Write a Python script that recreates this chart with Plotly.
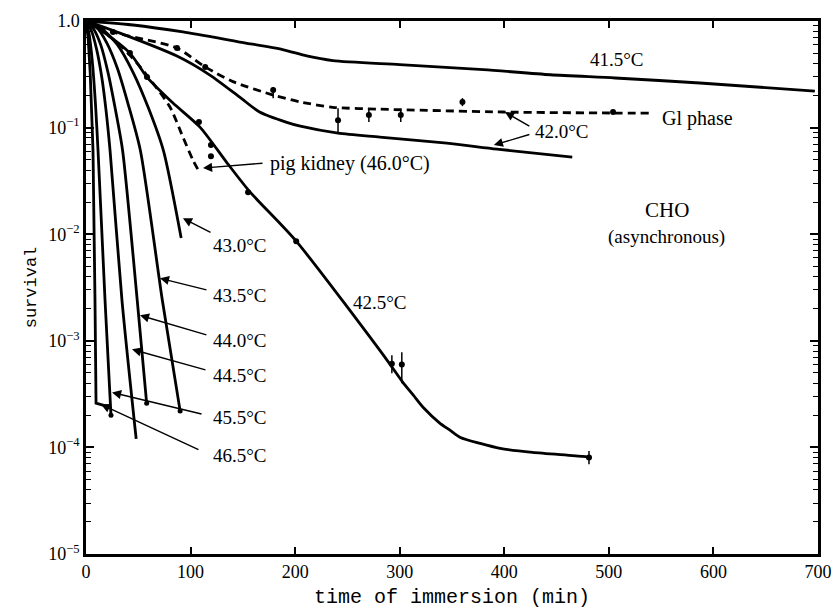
import plotly.graph_objects as go

# ---------------- data (time in min, survival fraction) ----------------
t_415 = [0, 45, 92.7, 147, 188, 211, 236, 300, 380, 444, 506, 587, 697]
s_415 = [1.0, 0.917, 0.789, 0.635, 0.54, 0.47, 0.425, 0.39, 0.35, 0.313, 0.292, 0.262, 0.22]

t_420 = [0, 32.5, 87, 118.5, 147, 166, 192, 205, 241, 281, 345, 393, 465]
s_420 = [1.0, 0.77, 0.469, 0.311, 0.193, 0.140, 0.112, 0.103, 0.0887, 0.0815, 0.0715, 0.0628, 0.0528]

t_g1 = [0, 25.8, 87, 114, 140.5, 179, 205, 236, 281, 399, 504, 539]
s_g1 = [1.0, 0.788, 0.557, 0.370, 0.270, 0.202, 0.174, 0.155, 0.149, 0.140, 0.137, 0.137]
pt_g1_t = [25.8, 87, 114, 179, 241, 270.5, 301, 360, 504]
pt_g1_s = [0.79, 0.557, 0.37, 0.225, 0.117, 0.131, 0.131, 0.174, 0.14]
pt_g1_ep = [0, 0, 0, 0.015, 0.035, 0.015, 0.015, 0.015, 0]
pt_g1_em = [0, 0, 0, 0.036, 0.028, 0.018, 0.018, 0.015, 0]

t_425 = [0, 18.2, 42, 58.3, 83.2, 109, 135, 157, 201, 288, 303, 313, 323, 338, 348, 358, 377, 396, 427, 475, 481]
s_425 = [1.0, 0.77, 0.50, 0.298, 0.17, 0.101, 0.0465, 0.0248, 0.0086, 6.56e-4, 4.07e-4,
         3.09e-4, 2.34e-4, 1.70e-4, 1.45e-4, 1.24e-4, 1.09e-4, 9.8e-5, 8.97e-5, 8.22e-5, 8.05e-5]
pt_425_t = [42, 58.3, 108, 119.5, 119.5, 155, 201, 292.5, 302, 481]
pt_425_s = [0.50, 0.298, 0.113, 0.0685, 0.054, 0.0248, 0.0086, 6.1e-4, 6.0e-4, 8.05e-5]
pt_425_ep = [0, 0, 0, 0, 0, 0, 0, 1.2e-4, 1.8e-4, 1.2e-5]
pt_425_em = [0, 0, 0, 0, 0, 0, 0, 1.15e-4, 2.0e-4, 1.1e-5]

t_pig = [0, 18.2, 32.5, 48.8, 64, 80.3, 92.7, 102.3, 109]
s_pig = [1.0, 0.77, 0.596, 0.403, 0.262, 0.156, 0.0815, 0.0495, 0.0374]

t_430 = [0, 15, 30, 45, 60, 74, 91]
s_430 = [1.0, 0.85, 0.6, 0.33, 0.15, 0.061, 0.0092]

t_435 = [0, 10, 20, 30, 40, 52, 73, 90]
s_435 = [1.0, 0.88, 0.62, 0.36, 0.17, 0.061, 0.0024, 2.2e-4]

t_440 = [0, 7, 14, 21, 28, 35, 49, 58]
s_440 = [1.0, 0.85, 0.6, 0.33, 0.15, 0.061, 0.0024, 2.6e-4]

t_445 = [0, 5, 10, 15, 19, 23, 34.4, 48]
s_445 = [1.0, 0.82, 0.55, 0.3, 0.15, 0.061, 0.0024, 1.2e-4]

t_455 = [0, 3, 6, 9, 11.5, 18.2, 23.9]
s_455 = [1.0, 0.75, 0.42, 0.17, 0.061, 0.0024, 2.0e-4]

t_465 = [0, 2, 4, 5.5, 6.7, 8.6, 9.6, 22]
s_465 = [1.0, 0.7, 0.33, 0.15, 0.061, 0.0024, 2.6e-4, 2.4e-4]

end_t = [23.9, 58, 90]
end_s = [2.0e-4, 2.6e-4, 2.2e-4]

x_ticks = [0, 100, 200, 300, 400, 500, 600, 700]
y_ticks = [1e-5, 1e-4, 1e-3, 1e-2, 1e-1, 1.0]
y_ticktext = ["10<sup>−5</sup>", "10<sup>−4</sup>", "10<sup>−3</sup>",
              "10<sup>−2</sup>", "10<sup>−1</sup>", "1.0"]

# ---------------- figure ----------------
FONT = "Liberation Serif"
LW = 2.8
fig = go.Figure()

def curve(t, s, dash="solid", width=LW):
    fig.add_trace(go.Scatter(x=t, y=s, mode="lines",
                             line=dict(color="black", width=width, dash=dash,
                                       shape="spline", smoothing=0.7),
                             showlegend=False, hoverinfo="skip"))

curve(t_415, s_415)
curve(t_420, s_420)
curve(t_g1, s_g1, dash="8px,5px")
curve(t_425, s_425)
curve(t_pig, s_pig, dash="8px,5px")
for t, s in [(t_430, s_430), (t_435, s_435), (t_440, s_440), (t_445, s_445), (t_455, s_455)]:
    curve(t, s)
fig.add_trace(go.Scatter(x=t_465, y=s_465, mode="lines",
                         line=dict(color="black", width=LW),
                         showlegend=False, hoverinfo="skip"))

def points(t, s, ep, em):
    fig.add_trace(go.Scatter(x=t, y=s, mode="markers",
                             marker=dict(color="black", size=6),
                             error_y=dict(type="data", symmetric=False, array=ep, arrayminus=em,
                                          color="black", thickness=1.5, width=0),
                             showlegend=False, hoverinfo="skip"))

points(pt_g1_t, pt_g1_s, pt_g1_ep, pt_g1_em)
points(pt_425_t, pt_425_s, pt_425_ep, pt_425_em)
fig.add_trace(go.Scatter(x=end_t, y=end_s, mode="markers",
                         marker=dict(color="black", size=5),
                         showlegend=False, hoverinfo="skip"))

# ---------------- annotations ----------------
anns = []

def text(x, ly, s, anchor="center", size=19):
    anns.append(dict(x=x, y=ly, xref="x", yref="y", text=s, showarrow=False,
                     xanchor=anchor, yanchor="middle",
                     font=dict(family=FONT, size=size, color="black")))

def arrow(x0, y0, x1, y1):
    anns.append(dict(x=x1, y=y1, ax=x0, ay=y0, xref="x", yref="y", axref="x", ayref="y",
                     text="", showarrow=True, arrowhead=2, arrowsize=1.3, arrowwidth=1.4,
                     arrowcolor="black", standoff=0, startstandoff=0))

text(507.6, -0.357, "41.5°C")
text(548.7, -0.911, "Gl phase", "left", 20)
text(427, -1.033, "42.0°C", "left")
arrow(425.4, -0.995, 400.6, -0.854)
arrow(425.4, -1.061, 390, -1.164)
text(174, -1.333, "pig kidney (46.0°C)", "left", 20)
arrow(170.2, -1.333, 111.9, -1.38)
text(555.4, -1.775, "CHO", size=21)
text(555.4, -2.028, "(asynchronous)")
text(281, -2.638, "42.5°C")

labels = [("43.0°C", -2.103, (120.5, -1.991), (92.7, -1.85)),
          ("43.5°C", -2.573, (116.6, -2.526), (70.7, -2.413)),
          ("44.0°C", -2.995, (116.6, -2.948), (51.6, -2.761)),
          ("44.5°C", -3.324, (115.7, -3.277), (44.0, -3.08)),
          ("45.5°C", -3.718, (111.9, -3.69), (24.9, -3.484)),
          ("46.5°C", -4.075, (109.0, -4.028), (14.3, -3.596))]
for lab, ly, tail, head in labels:
    text(119.5, ly, lab, "left")
    arrow(tail[0], tail[1], head[0], head[1])

minor_vals = [k * 10 ** e for e in range(-5, 0) for k in range(2, 10)]

fig.update_layout(
    width=833, height=609,
    margin=dict(l=86, r=15, t=21, b=55),
    paper_bgcolor="white", plot_bgcolor="white",
    font=dict(family=FONT, size=18, color="black"),
    annotations=anns,
    xaxis=dict(range=[0, 700], tickvals=x_ticks, ticktext=[str(v) for v in x_ticks],
               ticks="inside", ticklen=7, tickwidth=1.5, tickcolor="black",
               tickfont=dict(family=FONT, size=18),
               showline=True, linewidth=2.5, linecolor="black", mirror="allticks",
               showgrid=False, zeroline=False, automargin=False,
               title=dict(text="time of immersion (min)", standoff=10,
                          font=dict(family="Liberation Mono", size=20))),
    yaxis=dict(type="log", range=[-5, 0], tickvals=y_ticks, ticktext=y_ticktext,
               ticks="inside", ticklen=8, tickwidth=1.5, tickcolor="black",
               tickfont=dict(family=FONT, size=18),
               showline=True, linewidth=2.5, linecolor="black", mirror="allticks",
               showgrid=False, zeroline=False, automargin=False,
               minor=dict(tickvals=minor_vals, ticks="inside", ticklen=5,
                          tickwidth=1.3, tickcolor="black", showgrid=False),
               title=dict(text="survival", standoff=8,
                          font=dict(family="Liberation Mono", size=17))),
)

# remove the browser's default page margin so the 833x609 figure fills the window
fig.write_html("out.html", config={"displayModeBar": False},
               post_script="document.body.style.margin='0';document.body.style.overflow='hidden';")
